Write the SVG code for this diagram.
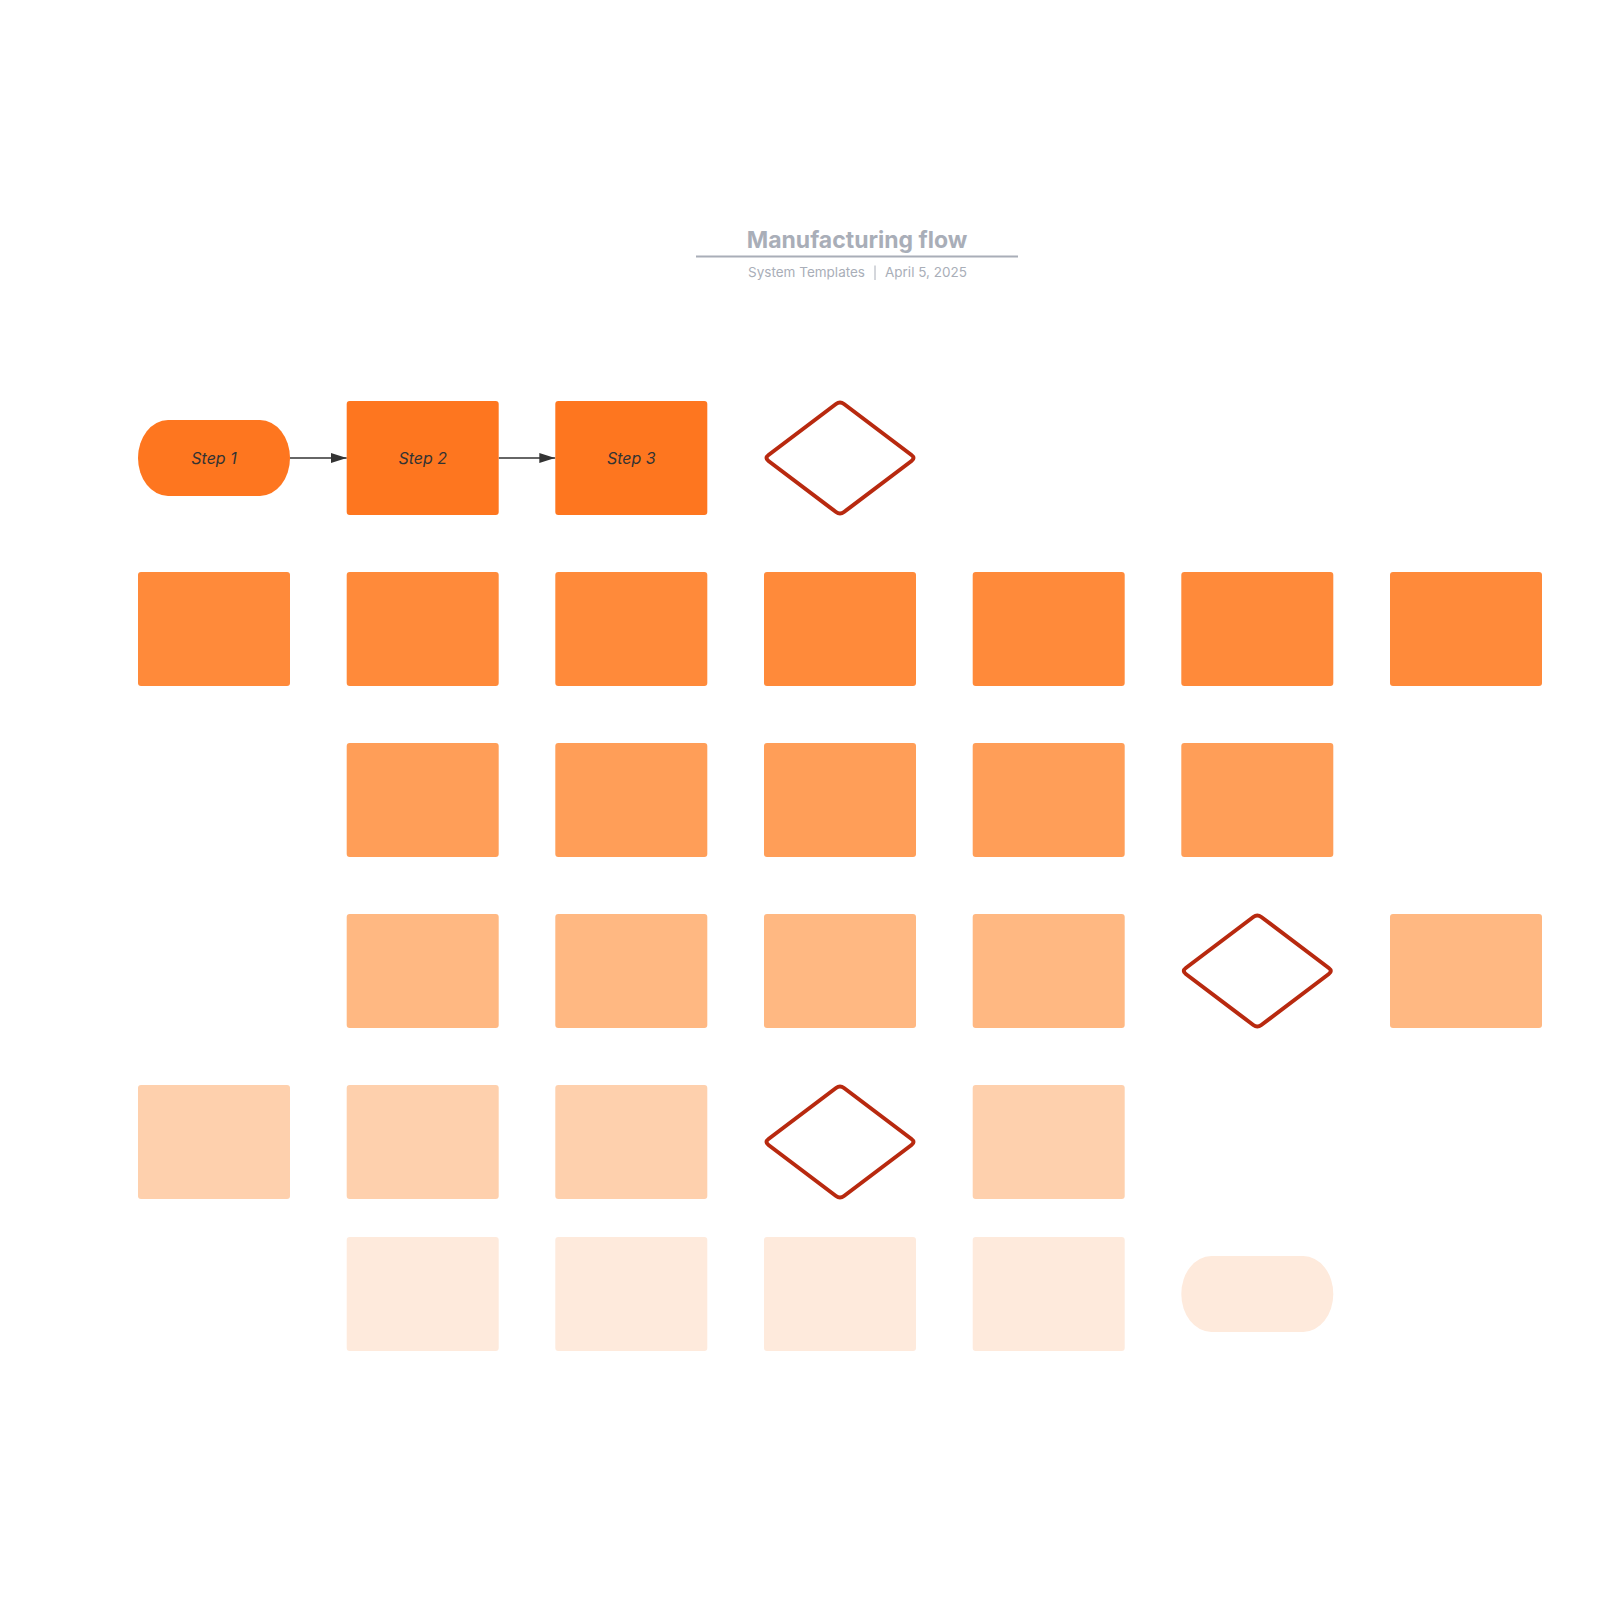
<svg xmlns="http://www.w3.org/2000/svg" width="1600" height="1600" viewBox="0 0 1600 1600">
  <defs>
    <style>
      .r1 { fill: #FE761F; }
      .r2 { fill: #FF8A3A; }
      .r3 { fill: #FF9E58; }
      .r4 { fill: #FFB882; }
      .r5 { fill: #FED0AD; }
      .r6 { fill: #FEEADC; }
      .dia { fill: #FFFFFF; stroke: #B8290F; stroke-width: 4; stroke-linejoin: round; }
      .lbl { font-family: Inter, "Noto Sans", "Liberation Sans", sans-serif; font-style: italic; font-size: 16px; fill: #333333; text-anchor: middle; }
      .title { font-family: Inter, "Noto Sans", "Liberation Sans", sans-serif; font-weight: 700; font-size: 23px; fill: #A9AEB8; text-anchor: middle; }
      .sub { font-family: Inter, "Noto Sans", "Liberation Sans", sans-serif; font-size: 13.5px; fill: #A9AEB8; }
      .conn { stroke: #333333; stroke-width: 1.3; fill: none; }
    </style>
    <marker id="arr" viewBox="0 0 16 10" refX="16" refY="5" markerWidth="16" markerHeight="10" markerUnits="userSpaceOnUse" orient="auto">
      <path d="M0,0 L16,5 L0,10 Z" fill="#333333"/>
    </marker>
  </defs>
  <rect width="1600" height="1600" fill="#FFFFFF"/>

  <g id="title">
    <text class="title" x="857" y="248">Manufacturing flow</text>
    <line x1="696" y1="256.5" x2="1018" y2="256.5" stroke="#A9AEB8" stroke-width="2"/>
    <text class="sub" x="865" y="277" text-anchor="end">System Templates</text>
    <line x1="875" y1="265.5" x2="875" y2="280" stroke="#A9AEB8" stroke-width="1"/>
    <text class="sub" x="885" y="277">April 5, 2025</text>
  </g>

  <g id="connectors">
    <line class="conn" x1="290" y1="458" x2="346.7" y2="458" marker-end="url(#arr)"/>
    <line class="conn" x1="498.7" y1="458" x2="555.3" y2="458" marker-end="url(#arr)"/>
  </g>

  <!-- Row 1 -->
  <g id="step1">
    <path class="r1" d="M168,420 L260,420 A30,38 0 0 1 260,496 L168,496 A30,38 0 0 1 168,420 Z"/>
    <text class="lbl" x="214" y="464">Step 1</text>
  </g>
  <g id="step2">
    <rect class="r1" x="346.7" y="401" width="152" height="114" rx="3"/>
    <text class="lbl" x="422.7" y="464">Step 2</text>
  </g>
  <g id="step3">
    <rect class="r1" x="555.3" y="401" width="152" height="114" rx="3"/>
    <text class="lbl" x="631.3" y="464">Step 3</text>
  </g>
  <g id="decision1">
    <path class="dia" d="M768.5,455 L836,404 Q840,401 844,404 L911.5,455 Q915.5,458 911.5,461 L844,512 Q840,515 836,512 L768.5,461 Q764.5,458 768.5,455 Z"/>
  </g>

  <!-- Row 2 -->
  <g id="r2c1"><rect class="r2" x="138" y="572" width="152" height="114" rx="3"/></g>
  <g id="r2c2"><rect class="r2" x="346.7" y="572" width="152" height="114" rx="3"/></g>
  <g id="r2c3"><rect class="r2" x="555.3" y="572" width="152" height="114" rx="3"/></g>
  <g id="r2c4"><rect class="r2" x="764" y="572" width="152" height="114" rx="3"/></g>
  <g id="r2c5"><rect class="r2" x="972.7" y="572" width="152" height="114" rx="3"/></g>
  <g id="r2c6"><rect class="r2" x="1181.3" y="572" width="152" height="114" rx="3"/></g>
  <g id="r2c7"><rect class="r2" x="1390" y="572" width="152" height="114" rx="3"/></g>

  <!-- Row 3 -->
  <g id="r3c2"><rect class="r3" x="346.7" y="743" width="152" height="114" rx="3"/></g>
  <g id="r3c3"><rect class="r3" x="555.3" y="743" width="152" height="114" rx="3"/></g>
  <g id="r3c4"><rect class="r3" x="764" y="743" width="152" height="114" rx="3"/></g>
  <g id="r3c5"><rect class="r3" x="972.7" y="743" width="152" height="114" rx="3"/></g>
  <g id="r3c6"><rect class="r3" x="1181.3" y="743" width="152" height="114" rx="3"/></g>

  <!-- Row 4 -->
  <g id="r4c2"><rect class="r4" x="346.7" y="914" width="152" height="114" rx="3"/></g>
  <g id="r4c3"><rect class="r4" x="555.3" y="914" width="152" height="114" rx="3"/></g>
  <g id="r4c4"><rect class="r4" x="764" y="914" width="152" height="114" rx="3"/></g>
  <g id="r4c5"><rect class="r4" x="972.7" y="914" width="152" height="114" rx="3"/></g>
  <g id="decision2">
    <path class="dia" d="M1185.8,968 L1253.3,917 Q1257.3,914 1261.3,917 L1328.8,968 Q1332.8,971 1328.8,974 L1261.3,1025 Q1257.3,1028 1253.3,1025 L1185.8,974 Q1181.8,971 1185.8,968 Z"/>
  </g>
  <g id="r4c7"><rect class="r4" x="1390" y="914" width="152" height="114" rx="3"/></g>

  <!-- Row 5 -->
  <g id="r5c1"><rect class="r5" x="138" y="1085" width="152" height="114" rx="3"/></g>
  <g id="r5c2"><rect class="r5" x="346.7" y="1085" width="152" height="114" rx="3"/></g>
  <g id="r5c3"><rect class="r5" x="555.3" y="1085" width="152" height="114" rx="3"/></g>
  <g id="decision3">
    <path class="dia" d="M768.5,1139 L836,1088 Q840,1085 844,1088 L911.5,1139 Q915.5,1142 911.5,1145 L844,1196 Q840,1199 836,1196 L768.5,1145 Q764.5,1142 768.5,1139 Z"/>
  </g>
  <g id="r5c5"><rect class="r5" x="972.7" y="1085" width="152" height="114" rx="3"/></g>

  <!-- Row 6 -->
  <g id="r6c2"><rect class="r6" x="346.7" y="1237" width="152" height="114" rx="3"/></g>
  <g id="r6c3"><rect class="r6" x="555.3" y="1237" width="152" height="114" rx="3"/></g>
  <g id="r6c4"><rect class="r6" x="764" y="1237" width="152" height="114" rx="3"/></g>
  <g id="r6c5"><rect class="r6" x="972.7" y="1237" width="152" height="114" rx="3"/></g>
  <g id="end">
    <path class="r6" d="M1211.3,1256 L1303.3,1256 A30,38 0 0 1 1303.3,1332 L1211.3,1332 A30,38 0 0 1 1211.3,1256 Z"/>
  </g>
</svg>
